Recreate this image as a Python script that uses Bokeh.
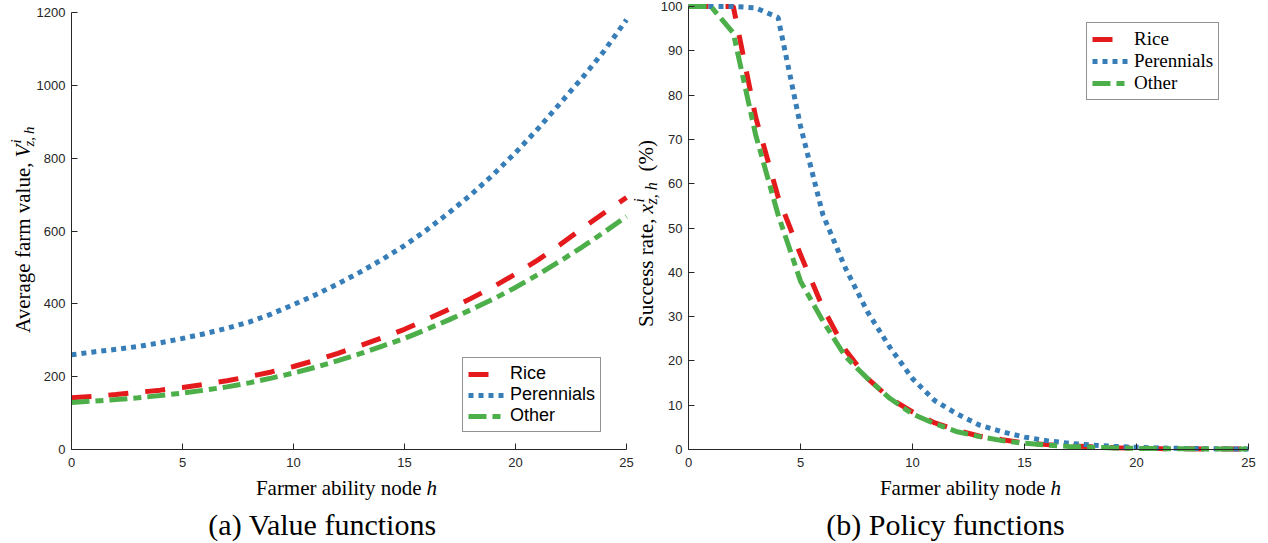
import math
from bokeh.plotting import figure
from bokeh.models import Range1d, FixedTicker, Label, Legend, LegendItem, LinearAxis
from bokeh.embed import file_html
from bokeh.resources import INLINE

# ---------------- data ----------------
h = list(range(26))
x_ticks = [0, 5, 10, 15, 20, 25]

value_rice = [142, 146, 151, 157, 163, 170, 179, 189, 200, 213, 228, 245, 264, 285,
              307, 330, 357, 385, 415, 447, 482, 520, 562, 607, 650, 692]
value_perennials = [260, 268, 275, 283, 293, 305, 318, 333, 350, 372, 398, 425, 455,
                    487, 522, 560, 603, 650, 700, 755, 815, 880, 950, 1020, 1095, 1180]
value_other = [129, 133, 137, 142, 148, 155, 163, 172, 183, 196, 210, 226, 244, 263,
               284, 305, 330, 356, 384, 413, 445, 480, 517, 556, 597, 640]
value_ticks = [0, 200, 400, 600, 800, 1000, 1200]

success_rice = [100, 100, 100, 75, 57, 44, 32, 22.5, 16, 11.5, 8.5, 6, 4.3, 3, 2.2,
                1.5, 1.1, 0.8, 0.6, 0.4, 0.3, 0.2, 0.15, 0.1, 0.1, 0.1]
success_perennials = [100, 100, 100, 99.7, 97.5, 73, 53, 41, 31, 23, 16, 11, 8, 5.5,
                      4, 2.8, 2, 1.4, 1, 0.7, 0.5, 0.35, 0.25, 0.2, 0.15, 0.1]
success_other = [100, 100, 94, 71, 53, 38, 29, 21, 16, 11.5, 8, 5.8, 4, 2.9, 2, 1.4,
                 1, 0.7, 0.5, 0.35, 0.25, 0.2, 0.15, 0.1, 0.1, 0.1]
success_ticks = [0, 10, 20, 30, 40, 50, 60, 70, 80, 90, 100]

series_names = ["Rice", "Perennials", "Other"]
colors = ["#e41a1c", "#377eb8", "#4daf4a"]
dashes = ["20 17", "5 5", "18 6 8 6"]

AX = "#262626"
SERIF = "Liberation Serif"
SANS = "Liberation Sans"
W, H = 1268, 543


def xrange_for(x0, x1, px0, px1):
    s = (px1 - px0) / (x1 - x0)
    return Range1d(x0 - px0 / s, x1 + (W - px1) / s)


def yrange_for(y0, y1, py0, py1):
    s = (py0 - py1) / (y1 - y0)
    return Range1d(y0 - (H - py0) / s, y1 + py1 / s)


p = figure(width=W, height=H, output_backend="svg", toolbar_location=None,
           x_range=xrange_for(0, 25, 71, 626),
           y_range=yrange_for(0, 1200, 449, 12),
           min_border_left=0, min_border_right=0, min_border_top=0, min_border_bottom=0)
p.extra_x_ranges = {"x2": xrange_for(0, 25, 688, 1248)}
p.extra_y_ranges = {"y2": yrange_for(0, 100, 449, 6)}
p.outline_line_color = None
p.grid.visible = False
p.background_fill_color = "white"
p.border_fill_color = "white"


def style_axis(ax, ticks, bounds, standoff):
    ax.ticker = FixedTicker(ticks=ticks)
    ax.bounds = bounds
    ax.fixed_location = 0
    ax.axis_line_color = AX
    ax.axis_line_width = 1
    ax.major_tick_line_color = AX
    ax.major_tick_in = 6
    ax.major_tick_out = 0
    ax.minor_tick_line_color = None
    ax.major_label_text_color = AX
    ax.major_label_text_font = SANS
    ax.major_label_text_font_size = "13px"
    ax.major_label_standoff = standoff


style_axis(p.xaxis[0], x_ticks, (0, 25), 8)
style_axis(p.yaxis[0], value_ticks, (0, 1200), 6)

ax2x = LinearAxis(x_range_name="x2", y_range_name="y2")
ax2y = LinearAxis(x_range_name="x2", y_range_name="y2")
style_axis(ax2x, x_ticks, (0, 25), 8)
style_axis(ax2y, success_ticks, (0, 100), 6)
p.add_layout(ax2x, "below")
p.add_layout(ax2y, "left")


def add_lines(ys_list, **kw):
    rs = []
    for ys, c, d in zip(ys_list, colors, dashes):
        rs.append(p.line(h, ys, line_color=c, line_width=5, line_dash=d,
                         line_cap="butt", **kw))
    return rs


def add_legend(rs, left, bottom, font, size):
    items = [LegendItem(label=n, renderers=[r]) for n, r in zip(series_names, rs)]
    lg = Legend(items=items, location=(left, H - bottom), label_text_font=font,
                label_text_font_size=size, label_text_color="black",
                glyph_width=36, glyph_height=20, label_height=20,
                label_standoff=6, spacing=0, padding=5, margin=0,
                border_line_color=AX, border_line_width=1,
                background_fill_color="white", background_fill_alpha=1)
    p.add_layout(lg)


def lab(x, ytop, text, size, style="normal", align="left", baseline="alphabetic",
        angle=0.0, font=SERIF):
    # x: canvas pixels from the left, ytop: canvas pixels from the top
    p.add_layout(Label(x=x, y=H - ytop, x_units="screen", y_units="screen", text=text,
                       text_font=font, text_font_size=size, text_font_style=style,
                       text_align=align, text_baseline=baseline, angle=angle,
                       text_color="black"))


A = math.pi / 2

# ---------------- (a) value functions ----------------
r1 = add_lines([value_rice, value_perennials, value_other])
add_legend(r1, 462, 432, SANS, "18px")

lab(22, 162, "Average farm value,", "21px", align="right", baseline="middle", angle=A)
lab(22, 157, "V", "21px", style="italic", baseline="middle", angle=A)
lab(15, 143, "i", "15px", style="italic", baseline="middle", angle=A)
lab(28, 146, "z,\u2009h", "15px", style="italic", baseline="middle", angle=A)

lab(421, 487, "Farmer ability node", "21px", align="right")
lab(426, 487, "h", "21px", style="italic")
lab(322, 524, "(a) Value functions", "30px", align="center")

# ---------------- (b) policy functions ----------------
r2 = add_lines([success_rice, success_perennials, success_other],
               x_range_name="x2", y_range_name="y2")
add_legend(r2, 1086, 100, SERIF, "19px")

lab(645, 218, "Success rate,", "21px", align="right", baseline="middle", angle=A)
lab(645, 213, "x", "21px", style="italic", baseline="middle", angle=A)
lab(638, 202, "i", "15px", style="italic", baseline="middle", angle=A)
lab(651, 204, "z, h", "16px", style="italic", baseline="middle", angle=A)
lab(645, 171, "(%)", "21px", baseline="middle", angle=A)

lab(1045, 487, "Farmer ability node", "21px", align="right")
lab(1050, 487, "h", "21px", style="italic")
lab(945, 524, "(b) Policy functions", "30px", align="center")

open("out.html", "w").write(file_html(p, INLINE))
